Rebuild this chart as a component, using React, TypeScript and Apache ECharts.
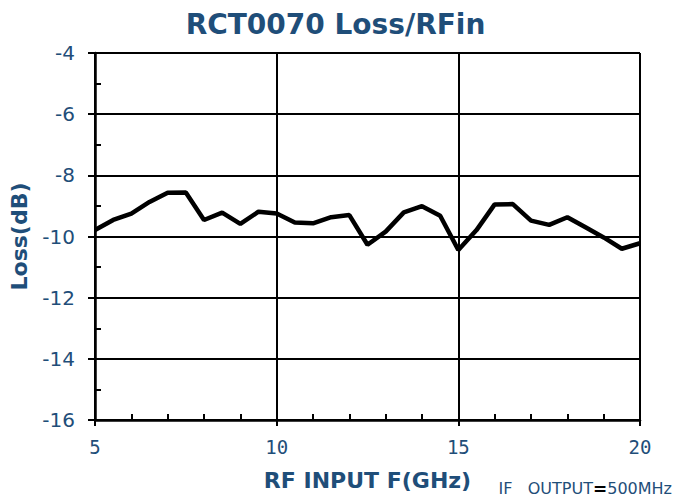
import React, { useEffect, useRef } from "react";
import * as echarts from "echarts";

const freqGHz = [5, 5.5, 6, 6.5, 7, 7.5, 8, 8.5, 9, 9.5, 10, 10.5, 11, 11.5, 12, 12.5, 13, 13.5, 14, 14.5, 15, 15.5, 16, 16.5, 17, 17.5, 18, 18.5, 19, 19.5, 20];
const lossDb = [-9.79, -9.46, -9.25, -8.87, -8.57, -8.56, -9.46, -9.22, -9.59, -9.19, -9.25, -9.54, -9.57, -9.37, -9.3, -10.27, -9.84, -9.21, -9.01, -9.32, -10.44, -9.79, -8.95, -8.94, -9.48, -9.62, -9.37, -9.7, -10.03, -10.4, -10.22];

const titleText = "RCT0070 Loss/RFin";
const xName = "RF INPUT F(GHz)";
const yName = "Loss(dB)";
const noteParts = ["IF   OUTPUT", "=", "500MHz"];

const BLUE = "#1f4e79";

export default function App() {
  const ref = useRef<HTMLDivElement>(null);
  useEffect(() => {
    if (!ref.current) return;
    const chart = echarts.init(ref.current, undefined, { renderer: "svg" });
    const data = freqGHz.map((f, i) => [f, lossDb[i]]);
    chart.setOption({
      animation: false,
      backgroundColor: "#ffffff",
      graphic: [
        {
          type: "text",
          x: 335.5,
          y: 24,
          style: {
            text: titleText,
            align: "center",
            verticalAlign: "middle",
            fontFamily: "DejaVu Sans",
            fontWeight: "bold",
            fontSize: 28,
            fill: BLUE,
          },
        },
        {
          type: "text",
          right: 3,
          top: 480,
          style: {
            text: `{b|${noteParts[0]}}{k|${noteParts[1]}}{b|${noteParts[2]}}`,
            rich: {
              b: { fontFamily: "DejaVu Sans", fontSize: 16, fill: BLUE },
              k: { fontFamily: "DejaVu Sans", fontSize: 17, fontWeight: "bold", fill: "#000" },
            },
          },
        },
      ],
      grid: { left: 95, right: 35, top: 53, bottom: 78 },
      xAxis: [
        {
          type: "value",
          min: 5,
          max: 20,
          interval: 5,
          position: "bottom",
          name: xName,
          nameLocation: "middle",
          nameGap: 49,
          nameTextStyle: { fontFamily: "DejaVu Sans", fontWeight: "bold", fontSize: 22, color: BLUE },
          axisLine: { show: true, onZero: false, lineStyle: { color: "#000", width: 2.5 } },
          axisTick: { show: true, length: 6, lineStyle: { color: "#000", width: 2 } },
          axisLabel: { margin: 17, fontFamily: "DejaVu Sans Mono", fontSize: 19, color: BLUE },
          splitLine: { show: true, lineStyle: { color: "#000", width: 2 } },
        },
        {
          type: "value",
          min: 5,
          max: 20,
          interval: 5,
          position: "bottom",
          axisLine: { show: false, onZero: false },
          axisTick: { show: false, inside: true },
          minorTick: { show: true, splitNumber: 5, length: 6, lineStyle: { color: "#000", width: 2 } },
          axisLabel: { show: false },
          splitLine: { show: false },
        },
      ],
      yAxis: [
        {
          type: "value",
          min: -16,
          max: -4,
          interval: 2,
          position: "left",
          name: yName,
          nameLocation: "middle",
          nameGap: 65,
          nameTextStyle: { fontFamily: "DejaVu Sans", fontWeight: "bold", fontSize: 22, color: BLUE },
          axisLine: { show: true, onZero: false, lineStyle: { color: "#000", width: 2.5 } },
          axisTick: { show: true, length: 7, lineStyle: { color: "#000", width: 2 } },
          axisLabel: { margin: 20, fontFamily: "DejaVu Sans", fontSize: 20, color: BLUE },
          splitLine: { show: true, lineStyle: { color: "#000", width: 2 } },
        },
        {
          type: "value",
          min: -16,
          max: -4,
          interval: 2,
          position: "left",
          axisLine: { show: false, onZero: false },
          axisTick: { show: false, inside: true },
          minorTick: { show: true, splitNumber: 2, length: 6, lineStyle: { color: "#000", width: 2 } },
          axisLabel: { show: false },
          splitLine: { show: false },
        },
      ],
      series: [
        {
          type: "line",
          xAxisIndex: 0,
          yAxisIndex: 0,
          data,
          showSymbol: false,
          symbol: "none",
          lineStyle: { color: "#000", width: 4.5 },
          z: 5,
        },
      ],
    });
    return () => chart.dispose();
  }, []);
  return <div ref={ref} style={{ position: "fixed", left: 0, top: 0, width: 675, height: 498 }} />;
}
